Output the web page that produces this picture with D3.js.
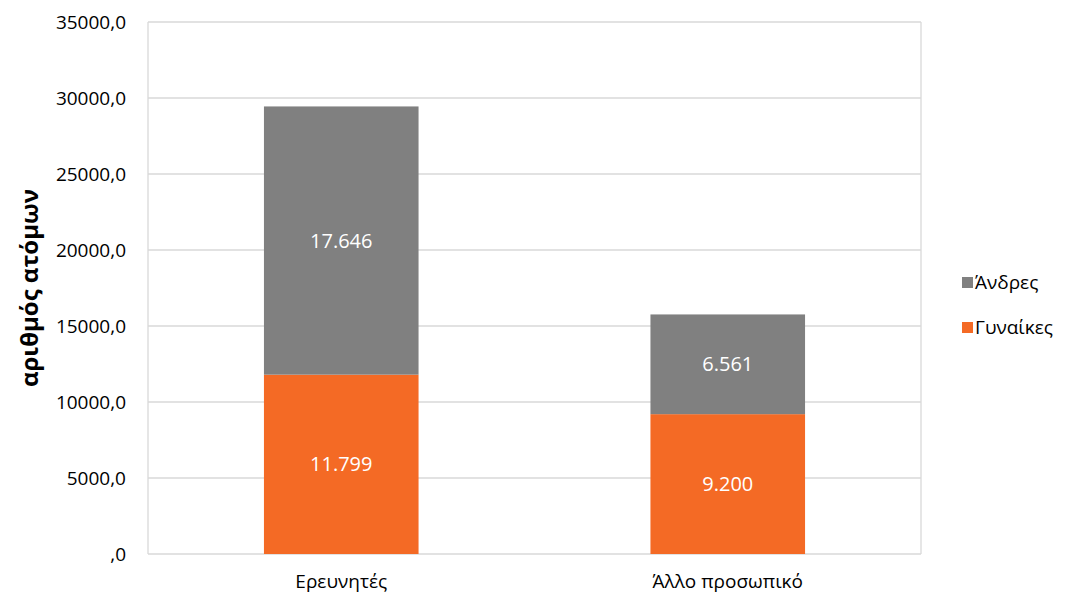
<!DOCTYPE html>
<meta charset="utf-8">
<style>
  body { margin: 0; background: #fff; }
  svg { font-family: "Open Sans", "Noto Sans", sans-serif; }
</style>
<svg id="mainsvg" width="1071" height="595"></svg>
<script src="https://d3js.org/d3.v7.min.js"></script>
<script>
const categories = ["Ερευνητές", "Άλλο προσωπικό"];
const women = [11799, 9200];
const men = [17646, 6561];
const seriesNames = ["Γυναίκες", "Άνδρες"];
const yTicks = [0, 5000, 10000, 15000, 20000, 25000, 30000, 35000];
const colors = { "Γυναίκες": "#F46A25", "Άνδρες": "#808080" };

const margin = { left: 148, right: 150, top: 22, bottom: 41 };
const W = 1071, H = 595;
const svg = d3.select("#mainsvg");

const rows = categories.map((c, i) => ({ cat: c, "Γυναίκες": women[i], "Άνδρες": men[i] }));
const stacked = d3.stack().keys(seriesNames)(rows);

const x = d3.scaleBand().domain(categories)
  .range([margin.left, W - margin.right]).paddingInner(0.6).paddingOuter(0.3);
const y = d3.scaleLinear().domain([0, 35000]).range([H - margin.bottom, margin.top]);

// gridlines
svg.append("g").selectAll("line").data(yTicks).join("line")
  .attr("x1", margin.left).attr("x2", W - margin.right)
  .attr("y1", d => y(d)).attr("y2", d => y(d))
  .attr("stroke", "#d9d9d9").attr("stroke-width", 1.3);
svg.append("line")
  .attr("x1", margin.left).attr("x2", margin.left)
  .attr("y1", y(0)).attr("y2", y(35000))
  .attr("stroke", "#d9d9d9").attr("stroke-width", 1.3);
svg.append("line")
  .attr("x1", W - margin.right).attr("x2", W - margin.right)
  .attr("y1", y(0)).attr("y2", y(35000))
  .attr("stroke", "#d9d9d9").attr("stroke-width", 1.3);

// y tick labels
const fmtTick = d => d === 0 ? ",0" : d + ",0";
svg.append("g").selectAll("text").data(yTicks).join("text")
  .attr("x", 126).attr("y", d => y(d) + 7)
  .attr("text-anchor", "end").attr("font-size", 19).attr("fill", "#000")
  .text(fmtTick);

// bars
const fmtLabel = d3.formatLocale({ decimal: ",", thousands: ".", grouping: [3], currency: ["", "€"] }).format(",d");
const layer = svg.append("g").selectAll("g").data(stacked).join("g")
  .attr("fill", d => colors[d.key]);
layer.selectAll("rect").data(d => d).join("rect")
  .attr("x", d => x(d.data.cat))
  .attr("width", x.bandwidth())
  .attr("y", d => y(d[1]))
  .attr("height", d => y(d[0]) - y(d[1]));
layer.selectAll("text").data(d => d).join("text")
  .attr("x", d => x(d.data.cat) + x.bandwidth() / 2)
  .attr("y", d => (y(d[0]) + y(d[1])) / 2 + 7)
  .attr("text-anchor", "middle").attr("fill", "#fff").attr("font-size", 20)
  .text(d => fmtLabel(d[1] - d[0]));

// x labels
svg.append("g").selectAll("text").data(categories).join("text")
  .attr("x", d => x(d) + x.bandwidth() / 2).attr("y", 588)
  .attr("text-anchor", "middle").attr("font-size", 19).attr("fill", "#000")
  .text(d => d);

// y title
svg.append("text")
  .attr("transform", `translate(38,${(y(0) + y(35000)) / 2}) rotate(-90)`)
  .attr("text-anchor", "middle").attr("font-size", 24).attr("font-weight", "bold")
  .text("αριθμός ατόμων");

// legend
const legend = svg.append("g").selectAll("g").data(["Άνδρες", "Γυναίκες"]).join("g")
  .attr("transform", (d, i) => `translate(962,${277 + i * 45})`);
legend.append("rect").attr("width", 11).attr("height", 11).attr("fill", d => colors[d]);
legend.append("text").attr("x", 13).attr("y", 12).attr("font-size", 19).text(d => d);
</script>
